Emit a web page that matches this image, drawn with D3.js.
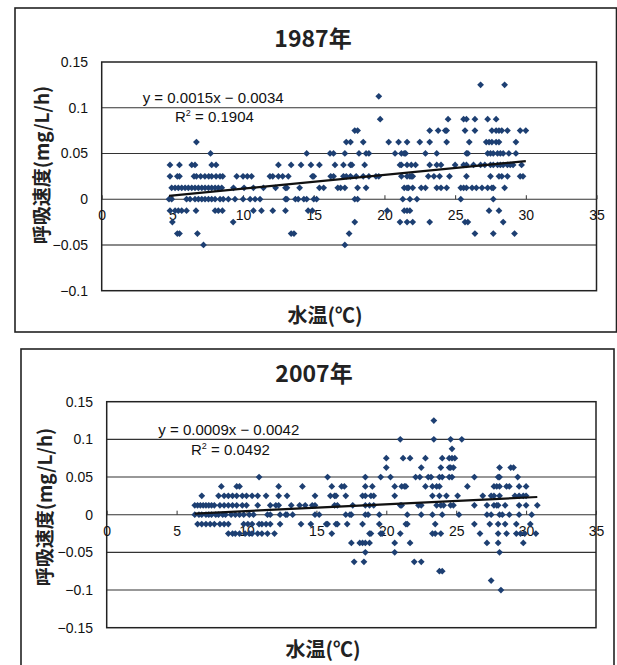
<!DOCTYPE html>
<html>
<head>
<meta charset="utf-8">
<script src="https://cdn.jsdelivr.net/npm/d3@7/dist/d3.min.js"></script>
<style>
  body { margin: 0; background: #fff; }
  text { font-family: "Liberation Sans", Arial, "Noto Sans CJK JP", sans-serif; }
  .cjk { font-family: "Noto Sans CJK JP", "Liberation Sans", sans-serif; font-weight: bold; }
</style>
</head>
<body>
<svg id="chart" width="617" height="665"></svg>
<script>
// ---- data -------------------------------------------------------------
const titles = ["1987年", "2007年"];
const yTitle = "呼吸速度(mg/L/h)";
const xTitle = "水温(℃)";
const xTicks = [0, 5, 10, 15, 20, 25, 30, 35];
const yTicks1987 = [0.15, 0.1, 0.05, 0, -0.05, -0.1];
const yTicks2007 = [0.15, 0.1, 0.05, 0, -0.05, -0.1, -0.15];

// respiration rate levels (mg/L/h) and the water temperatures (°C) observed at each
const levels1987 = [0.125, 0.1125, 0.0875, 0.075, 0.0625, 0.05, 0.0375, 0.025, 0.0125, 0, -0.0125, -0.025, -0.0375, -0.05];
const temps1987 = [
  [26.8, 28.5],
  [19.6],
  [19.7, 24.5, 25.6, 25.8, 26.4, 27.3, 27.9],
  [17.9, 18.1, 23.2, 23.8, 24.3, 24.4, 25.7, 26.4, 27.6, 27.9, 28.1, 28.3, 28.7, 29.6, 30.0],
  [6.7, 17.3, 17.6, 18.5, 20.3, 21.0, 21.6, 22.5, 23.2, 24.4, 26.0, 27.2, 27.4, 27.6, 27.9, 28.1, 29.3],
  [7.7, 14.5, 16.15, 16.4, 17.2, 18.2, 18.7, 18.9, 20.75, 21.2, 21.4, 21.5, 22.9, 23.7, 25.8, 25.9, 27.3, 27.5, 27.7, 28.0, 28.2, 28.4, 28.8, 29.3],
  [4.83, 5.5, 6.37, 6.6, 7.78, 8.09, 12.5, 13.4, 14.1, 14.8, 15.4, 16.5, 17.1, 17.6, 17.7, 18.6, 21.1, 21.2, 21.6, 21.9, 22.2, 23.2, 23.7,
   24.0, 25.0, 25.6, 25.8, 26.3, 26.8, 27.1, 27.5, 27.7, 28.0, 28.2, 28.4, 28.7, 28.9, 29.1, 29.7],
  [4.83, 5.35, 5.5, 6.53, 6.7, 7.0, 7.3, 7.57, 7.78, 8.09, 8.37, 8.56, 9.55, 10.0, 10.3, 10.6, 11.9, 12.1, 12.5, 12.8, 13.2, 14.9, 15.0,
   16.2, 16.4, 17.1, 17.3, 17.6, 18.0, 18.5, 18.9, 19.4, 19.6, 21.2, 21.6, 21.8, 21.9, 22.0, 23.1, 23.5, 23.9, 24.6, 25.8, 27.5, 28.1,
   28.3, 28.7, 29.6, 29.8],
  [4.95, 5.19, 5.42, 5.66, 5.9, 6.13, 6.37, 6.6, 6.84, 7.08, 7.31, 7.55, 7.78, 8.02, 8.25, 8.49, 9.32, 10.07, 10.73, 11.44, 12.3, 13.0,
   13.1, 14.0, 15.4, 15.7, 16.7, 16.9, 17.2, 18.1, 18.7, 21.4, 21.6, 21.7, 22.0, 22.6, 22.9, 23.7, 24.0, 24.4, 25.4, 25.6, 25.8, 26.2,
   26.5, 26.9, 27.3, 27.6, 27.7, 28.5],
  [4.76, 4.95, 6.0, 6.25, 6.6, 6.84, 7.08, 7.31, 7.55, 7.78, 8.02, 8.37, 8.6, 8.96, 9.43, 10.0, 10.5, 10.85, 11.2, 13.0, 13.1, 13.7,
   13.9, 14.3, 14.5, 15.0, 15.2, 17.9, 18.1, 21.3, 21.8, 22.3, 25.4, 27.7],
  [4.83, 5.19, 5.42, 5.66, 6.0, 6.67, 8.02, 8.25, 8.54, 10.73, 11.3, 12.1, 13.0, 14.6, 14.9, 20.2, 21.4, 21.6, 21.8, 27.4, 28.1],
  [5.0, 9.3, 17.9, 21.1, 21.6, 22.0, 23.2, 25.7, 25.9, 28.4],
  [5.35, 5.5, 6.77, 13.4, 13.6, 17.5, 26.4, 27.7, 29.2],
  [7.2, 17.2]
];

const levels2007 = [0.125, 0.1, 0.0875, 0.075, 0.0625, 0.05, 0.0375, 0.025, 0.0125, 0, -0.0125, -0.025, -0.0375, -0.05, -0.0625, -0.075, -0.0875, -0.1];
const temps2007 = [
  [23.4],
  [21.0, 23.4, 24.6, 25.4],
  [24.7],
  [20.0, 21.2, 21.7, 22.8, 24.0, 24.5, 24.7, 24.9],
  [20.0, 22.5, 23.9, 24.5, 24.6, 24.8, 28.1, 28.9, 29.1],
  [10.9, 15.8, 18.5, 19.6, 20.3, 22.1, 22.4, 23.0, 23.2, 23.8, 24.0, 24.5, 24.7, 26.3, 28.0, 28.1, 29.4],
  [8.2, 9.3, 9.5, 12.3, 14.0, 16.1, 16.8, 17.0, 18.5, 19.0, 20.6, 21.1, 21.3, 21.4, 22.8, 23.3, 23.6, 23.8, 25.8, 27.7, 27.9, 28.1,
   28.6, 28.8, 29.5, 30.0],
  [6.8, 8.0, 8.4, 8.7, 9.0, 9.3, 9.7, 10.0, 10.4, 10.8, 11.4, 12.3, 12.9, 14.9, 16.0, 16.3, 16.4, 17.1, 18.3, 18.5, 18.9, 19.1, 20.6,
   23.3, 23.8, 24.3, 25.1, 26.9, 27.5, 27.7, 28.1, 29.2, 29.5, 29.8, 30.0],
  [6.3, 6.5, 6.7, 6.9, 7.1, 7.3, 7.5, 7.7, 8.1, 8.4, 8.7, 9.0, 9.3, 9.7, 10.0, 10.8, 11.7, 12.1, 12.3, 13.2, 13.8, 14.2, 14.7, 14.9,
   16.3, 16.5, 17.6, 18.5, 18.8, 19.1, 21.0, 21.1, 22.3, 22.5, 23.6, 23.9, 24.1, 24.6, 24.8, 26.3, 27.2, 27.7, 27.9, 28.0, 28.5, 29.5,
   30.0, 30.8],
  [6.3, 6.6, 6.8, 7.1, 7.3, 7.5, 7.8, 8.0, 8.3, 8.5, 8.9, 9.2, 9.5, 9.8, 10.2, 10.5, 11.5, 11.7, 12.4, 12.8, 12.9, 13.3, 14.9, 15.2,
   17.1, 17.4, 17.5, 18.5, 18.7, 19.5, 21.5, 22.5, 23.3, 24.0, 25.2, 27.2, 27.5, 28.1, 28.3, 28.8, 29.5, 30.4],
  [6.5, 6.8, 7.1, 7.4, 7.7, 8.1, 8.4, 8.7, 9.8, 10.1, 10.4, 10.9, 11.1, 11.4, 11.7, 12.4, 13.9, 14.6, 15.7, 15.8, 16.4, 16.5, 17.2,
   18.3, 19.5, 21.4, 21.5, 23.5, 26.3, 27.4, 28.0, 28.5, 29.3, 30.3],
  [8.7, 9.0, 9.2, 9.5, 9.9, 10.2, 10.4, 10.8, 11.1, 11.5, 12.0, 16.1, 18.8, 18.9, 19.6, 19.7, 21.0, 23.3, 23.5, 23.9, 26.7, 28.0,
   28.6, 29.3, 29.6, 29.9, 30.7],
  [17.5, 18.1, 18.3, 18.5, 18.8, 20.6, 21.7, 27.2, 28.0, 29.8],
  [18.5, 20.6, 28.1],
  [17.7, 18.4, 22.0, 22.5],
  [23.8, 24.0],
  [27.5],
  [28.2]
];

// linear trend lines: y = slope * x + intercept
const slopes = [0.0015, 0.0009];
const intercepts = [-0.0034, -0.0042];
const r2Values = ["0.1904", "0.0492"];

// ---- drawing ----------------------------------------------------------
const svg = d3.select("#chart");
const markColor = "#1d3f72";

const diamond = {
  draw(ctx, size) {
    const r = Math.sqrt(size) / 2;
    ctx.moveTo(0, -r); ctx.lineTo(r, 0); ctx.lineTo(0, r); ctx.lineTo(-r, 0); ctx.closePath();
  }
};

function flatten(levels, temps) {
  const pts = [];
  levels.forEach((lv, i) => temps[i].forEach(t => pts.push({ x: t, y: lv })));
  return pts;
}

const panels = [
  {
    frame: { x: 15, y: 8, w: 601.5, h: 324 },
    plot: { left: 101.7, right: 596.5, top: 62, bottom: 290.7 },
    yDomain: [-0.1, 0.15], yTicks: yTicks1987, grid: [0.1, 0.05, 0, -0.05],
    title: titles[0], titleX: 313, titleY: 47,
    yTitleX: 42, yTitleY: 165, xTitleX: 325, xTitleY: 323,
    eq: { x: 142.7, y: 103 }, r2: { x: 175, y: 122 },
    points: flatten(levels1987, temps1987), tickLabelRight: 88
  },
  {
    frame: { x: 21, y: 349, w: 593, h: 330 },
    plot: { left: 106.7, right: 596, top: 401.7, bottom: 627.7 },
    yDomain: [-0.15, 0.15], yTicks: yTicks2007, grid: [0.1, 0.05, 0, -0.05, -0.1],
    title: titles[1], titleX: 314, titleY: 382,
    yTitleX: 45, yTitleY: 507, xTitleX: 323, xTitleY: 657,
    eq: { x: 158.3, y: 435 }, r2: { x: 191, y: 455 },
    points: flatten(levels2007, temps2007), tickLabelRight: 93
  }
];

panels.forEach((p, k) => {
  const g = svg.append("g");
  g.append("rect")
    .attr("x", p.frame.x).attr("y", p.frame.y)
    .attr("width", p.frame.w).attr("height", p.frame.h)
    .attr("fill", "#fff").attr("stroke", "#222").attr("stroke-width", 1.6);

  const x = d3.scaleLinear().domain([0, 35]).range([p.plot.left, p.plot.right]);
  const y = d3.scaleLinear().domain(p.yDomain).range([p.plot.bottom, p.plot.top]);

  // horizontal gridlines
  g.append("g").selectAll("line").data(p.grid).join("line")
    .attr("x1", p.plot.left).attr("x2", p.plot.right)
    .attr("y1", d => y(d)).attr("y2", d => y(d))
    .attr("stroke", d => (k === 0 && d === -0.05) ? "#8a8a8a" : "#333")
    .attr("stroke-width", d => (k === 0 && d === -0.05) ? 2 : 1.1);

  // plot border
  g.append("rect")
    .attr("x", p.plot.left).attr("y", p.plot.top)
    .attr("width", p.plot.right - p.plot.left).attr("height", p.plot.bottom - p.plot.top)
    .attr("fill", "none").attr("stroke", "#222").attr("stroke-width", 1.5);

  // y axis labels
  const yAxis = g.append("g")
    .attr("transform", `translate(${p.plot.left},0)`)
    .call(d3.axisLeft(y).tickValues(p.yTicks).tickSize(0)
      .tickPadding(p.plot.left - p.tickLabelRight)
      .tickFormat(d3.format("~g")));
  yAxis.select(".domain").remove();
  yAxis.selectAll("text").attr("font-size", 14).attr("fill", "#111")
    .style("font-family", "'Liberation Sans', Arial, sans-serif");

  // x axis on the zero line, tick marks pointing up
  const xAxis = g.append("g")
    .attr("transform", `translate(0,${y(0)})`)
    .call(d3.axisBottom(x).tickValues(xTicks).tickSizeInner(-4).tickSizeOuter(0).tickPadding(11));
  xAxis.select(".domain").remove();
  xAxis.selectAll("line").attr("stroke", "#333");
  xAxis.selectAll("text").attr("font-size", 14).attr("fill", "#111")
    .style("font-family", "'Liberation Sans', Arial, sans-serif");

  // data points
  g.append("g").selectAll("path").data(p.points).join("path")
    .attr("transform", d => `translate(${x(d.x)},${y(d.y)})`)
    .attr("d", d3.symbol().type(diamond).size(46))
    .attr("fill", markColor);

  // trend line
  const xs = d3.extent(p.points, d => d.x);
  const line = d3.line().x(d => x(d)).y(d => y(slopes[k] * d + intercepts[k]));
  g.append("path").datum(xs).attr("d", line)
    .attr("fill", "none").attr("stroke", "#111").attr("stroke-width", 2.2);

  // trend equation
  const fmt = v => v.toFixed(4);
  const sign = intercepts[k] < 0 ? " − " : " + ";
  g.append("text").attr("x", p.eq.x).attr("y", p.eq.y)
    .attr("font-size", 15).attr("fill", "#111")
    .text(`y = ${fmt(slopes[k])}x${sign}${fmt(Math.abs(intercepts[k]))}`);
  const r2 = g.append("text").attr("x", p.r2.x).attr("y", p.r2.y)
    .attr("font-size", 15).attr("fill", "#111");
  r2.append("tspan").text("R");
  r2.append("tspan").attr("dy", -6).attr("font-size", 9).text("2");
  r2.append("tspan").attr("dy", 6).text(` = ${r2Values[k]}`);

  // titles
  g.append("text").attr("class", "cjk")
    .attr("x", p.titleX).attr("y", p.titleY)
    .attr("text-anchor", "middle").attr("font-size", 23).attr("fill", "#222")
    .text(p.title);
  g.append("text").attr("class", "cjk")
    .attr("transform", `translate(${p.yTitleX + 7},${p.yTitleY}) rotate(-90)`)
    .attr("text-anchor", "middle").attr("font-size", 19).attr("fill", "#222")
    .text(yTitle);
  g.append("text").attr("class", "cjk")
    .attr("x", p.xTitleX).attr("y", p.xTitleY)
    .attr("text-anchor", "middle").attr("font-size", 20).attr("fill", "#222")
    .text(xTitle);
});
</script>
</body>
</html>
